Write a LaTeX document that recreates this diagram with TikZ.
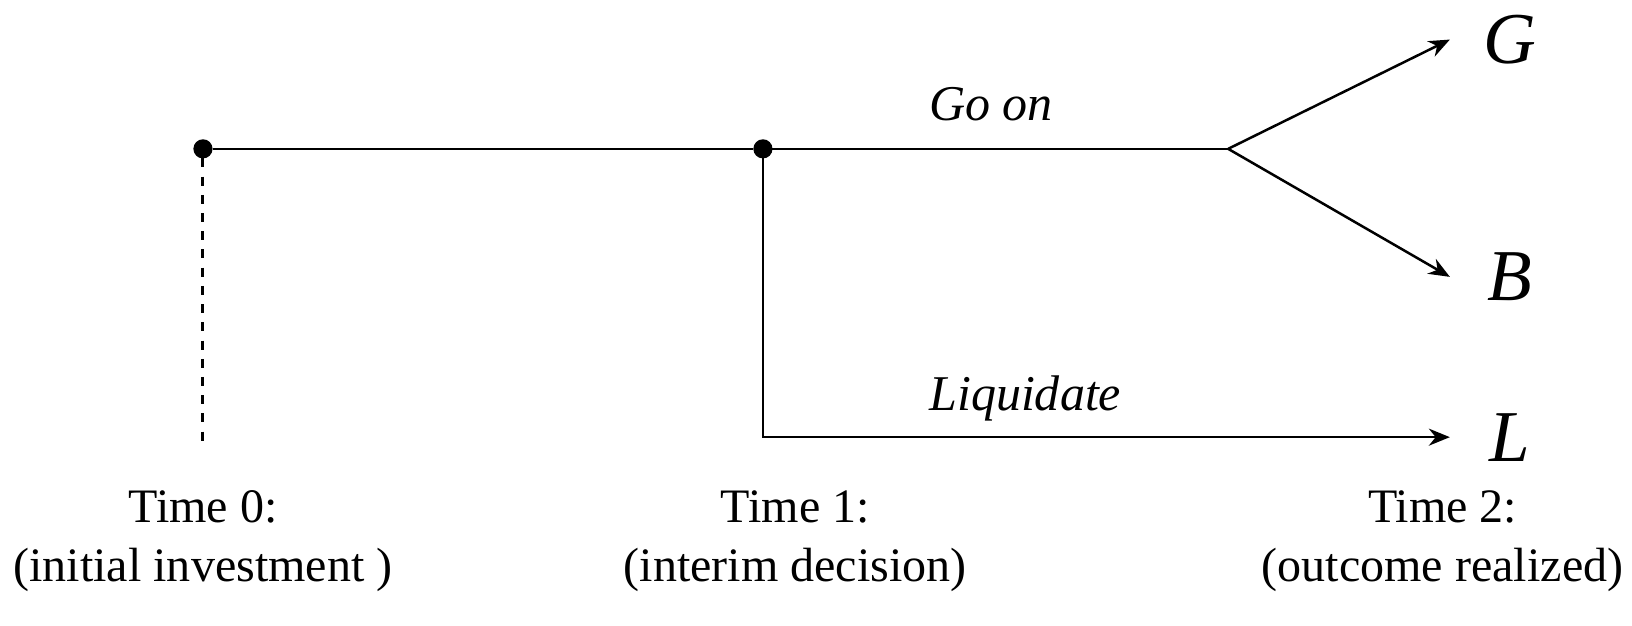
\documentclass[tikz,border=0pt]{standalone}
\usepackage{fontspec}
\setmainfont{Liberation Serif}
\usetikzlibrary{arrows.meta,positioning}

\begin{document}
\begin{tikzpicture}[x=0.52pt,y=-0.52pt,line width=1.25pt,>={Stealth[length=10.5pt,width=8.5pt]}]
        \tikzset{dot/.style={draw, circle, fill, inner sep=0pt, minimum size=8.3pt},
                 timelbl/.style={align=center, font=\fontsize{24}{29.5}\selectfont},
                 act/.style={font=\fontsize{25}{29}\selectfont\itshape},
                 outc/.style={inner sep=0pt, font=\fontsize{36.5}{42}\selectfont\itshape}}
        \useasboundingbox (0,0) rectangle (1568,600.5);

        \node[dot] (t0) at (195,143) {};
        \node[dot] (t1) at (733,143) {};
        \coordinate (split) at (1180,143);
        \coordinate (end0) at (195,430);

        \coordinate (tipG) at (1393,38);
        \coordinate (tipB) at (1393,266);
        \coordinate (tipL) at (1393,420);

        \node[outc, right=16pt of tipG] (G) {G};
        \node[outc, right=18pt of tipB] (B) {B};
        \node[outc, right=19pt of tipL] (L) {L};

        \draw (t0) -- (t1) -- (split);
        \draw[dashed, line width=1.5pt, dash pattern=on 4.5pt off 4.6pt] (t0) -- (end0);
        \draw[->] (split) -- (tipG);
        \draw[->] (split) -- (tipB);
        \draw[->] (t1) |- (tipL);

        \node[act] (goon) at (952,100) {Go on};
        \node[act] (liq) at (985,383) {Liquidate};

        \node[timelbl] (time0) at (195,520) {Time 0:\\(initial investment )};
        \node[timelbl] (time1) at (764,520) {Time 1:\\(interim decision)};
        \node[timelbl] (time2) at (1386,520) {Time 2:\\(outcome realized)};
    \end{tikzpicture}
\end{document}
